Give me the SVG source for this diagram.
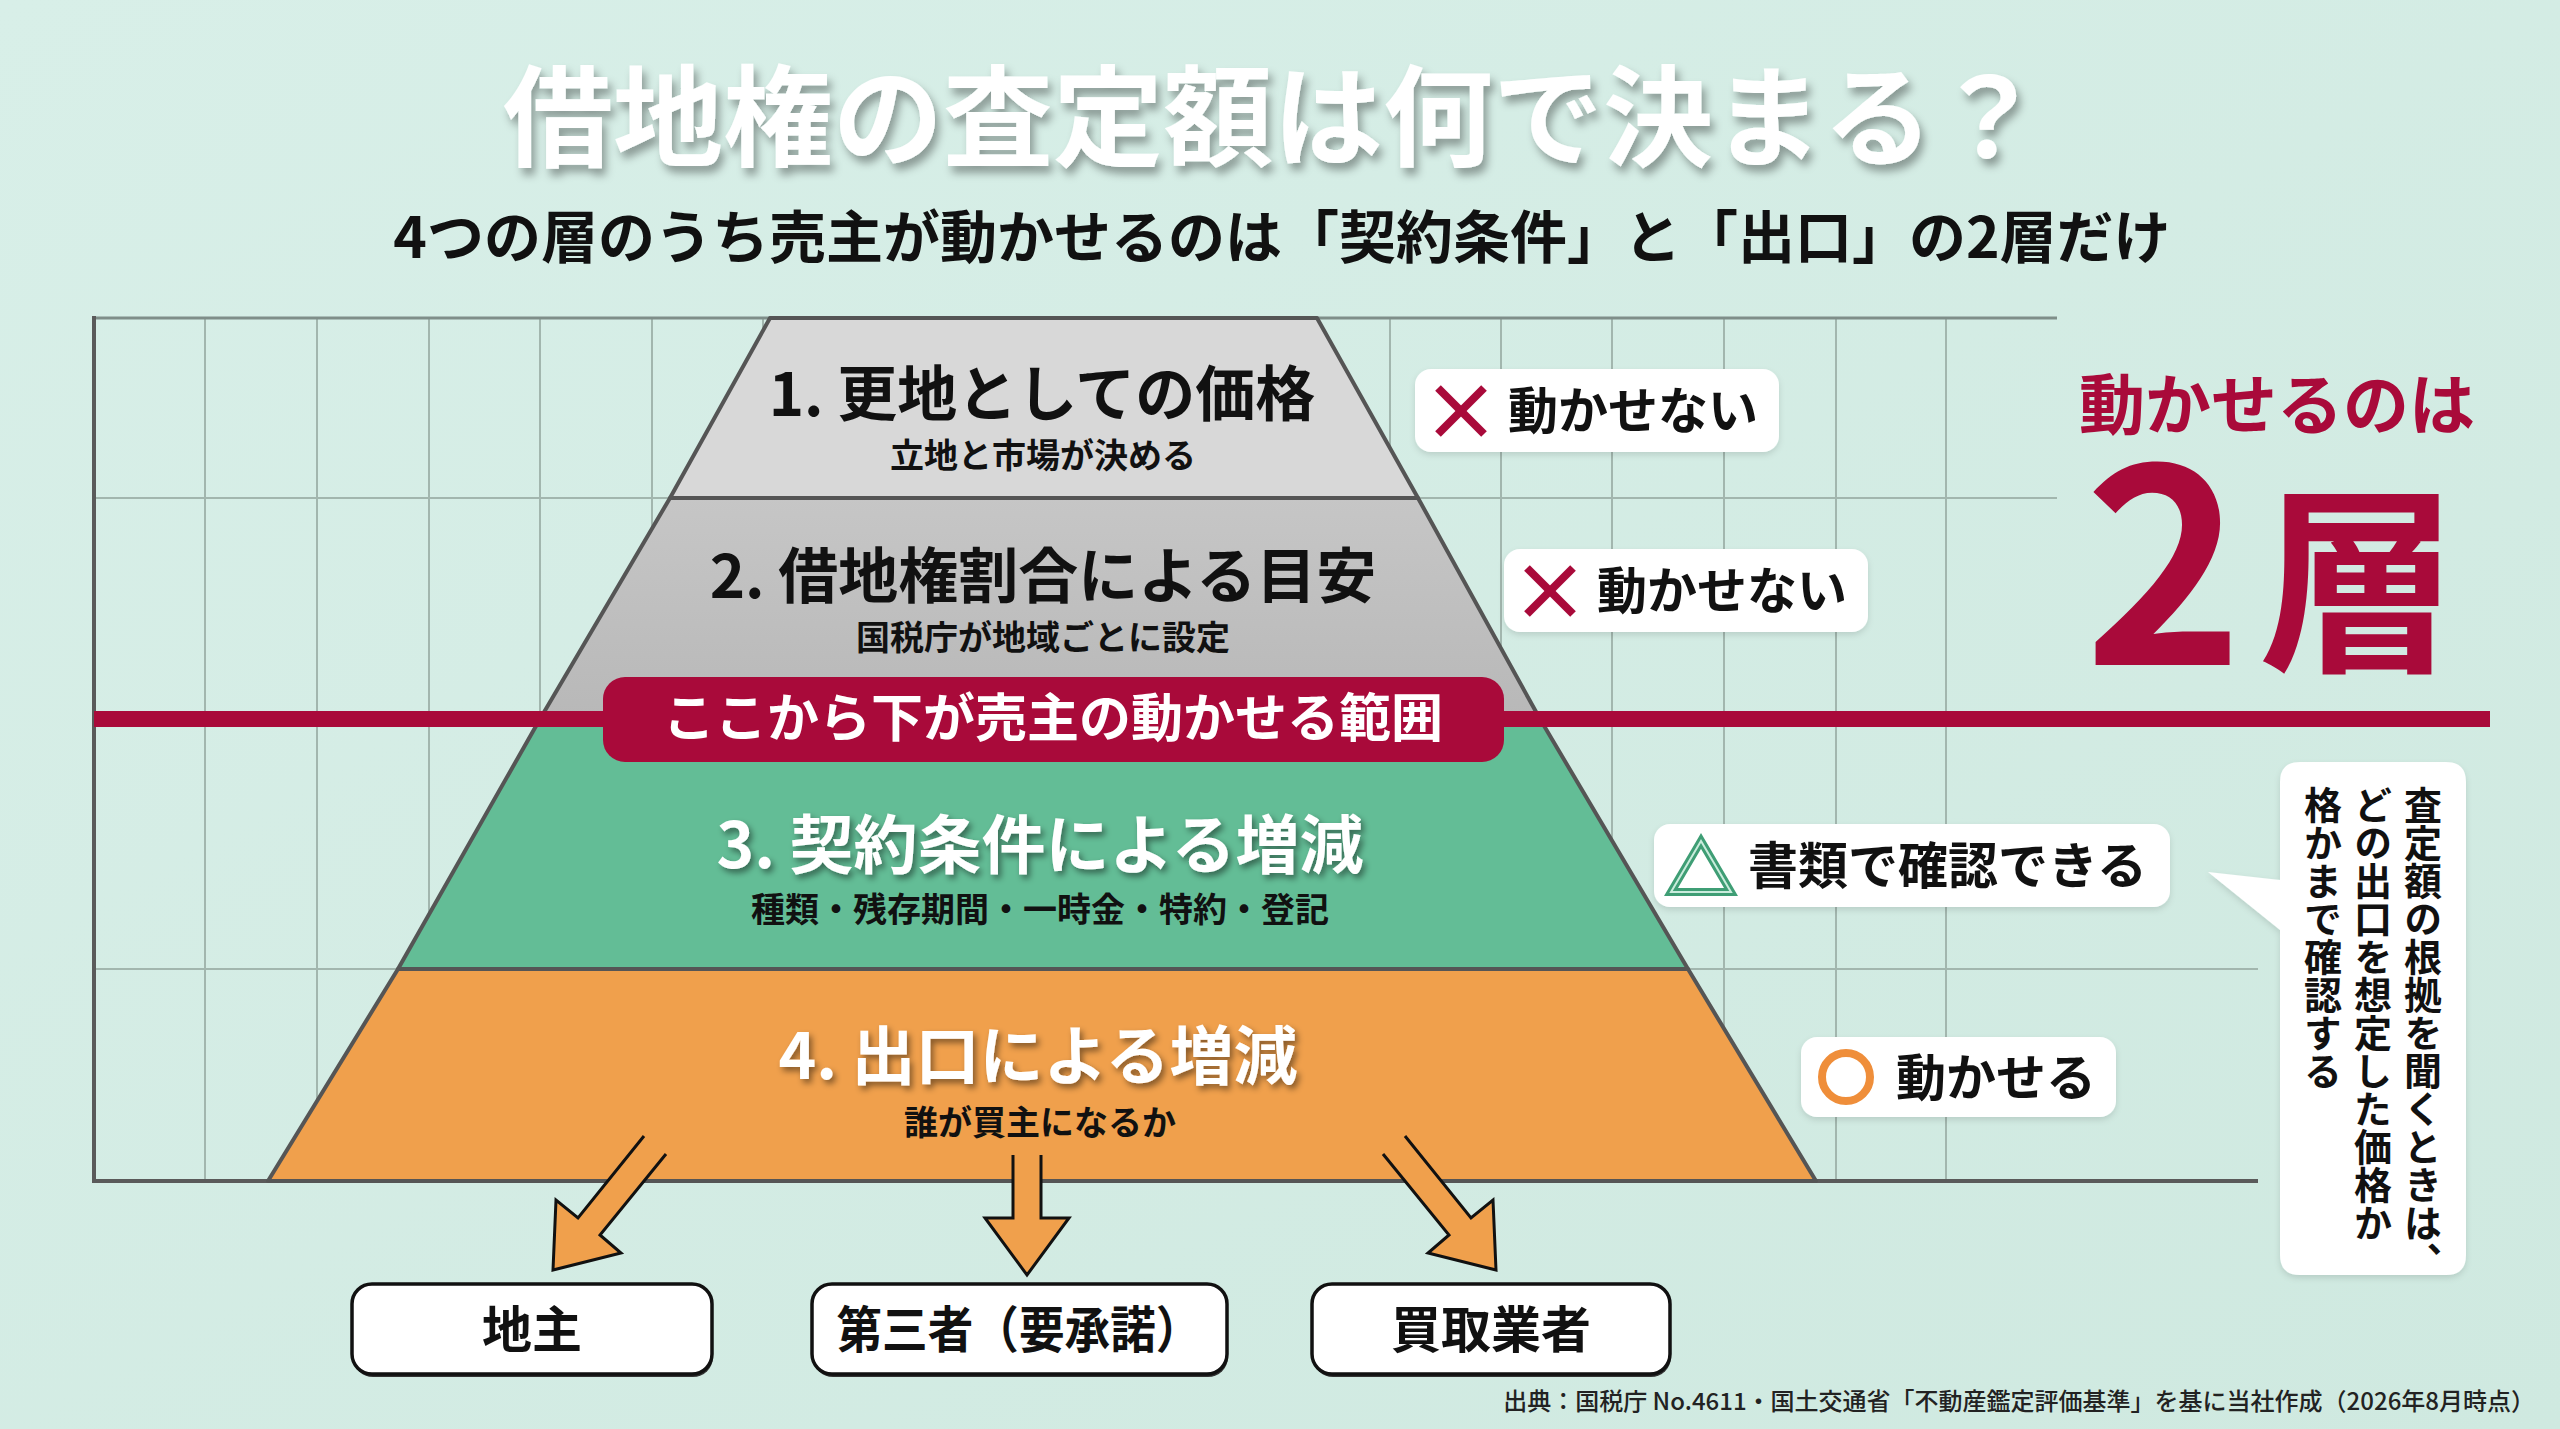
<svg xmlns="http://www.w3.org/2000/svg" width="2560" height="1429" viewBox="0 0 2560 1429">
  <defs>
    <linearGradient id="bg" x1="0" y1="0" x2="1" y2="1">
      <stop offset="0" stop-color="#d8efe8"/>
      <stop offset="1" stop-color="#cfe9e0"/>
    </linearGradient>
    <linearGradient id="g2" x1="0" y1="0" x2="0" y2="1">
      <stop offset="0" stop-color="#c6c6c6"/>
      <stop offset="1" stop-color="#b8b8b8"/>
    </linearGradient>
    <filter id="shTitle" x="-5%" y="-20%" width="110%" height="150%">
      <feDropShadow dx="4" dy="7" stdDeviation="4" flood-color="#000" flood-opacity="0.35"/>
    </filter>
    <filter id="shHead" x="-5%" y="-20%" width="110%" height="150%">
      <feDropShadow dx="3" dy="4" stdDeviation="3" flood-color="#000" flood-opacity="0.45"/>
    </filter>
    <filter id="shBox" x="-10%" y="-20%" width="120%" height="150%">
      <feDropShadow dx="0" dy="3" stdDeviation="3" flood-color="#000" flood-opacity="0.12"/>
    </filter>
  </defs>
  <style>
    text { font-family: "Noto Sans CJK JP", "Noto Sans", sans-serif; font-weight: 700; }
    .grid { stroke: #a2b6ae; stroke-width: 2; fill: none; }
    .frame { stroke: #5a5a5a; stroke-width: 4; fill: none; }
    .layer { stroke: #555; stroke-width: 4; stroke-linejoin: round; }
    .head { font-size: 60px; text-anchor: middle; fill: #111; }
    .headw { font-size: 64px; text-anchor: middle; fill: #fff; filter: url(#shHead); }
    .sub { font-size: 34px; text-anchor: middle; fill: #111; }
    .tag { fill: #fff; filter: url(#shBox); }
    .tagtxt { font-size: 50px; fill: #111; }
    .xmark { stroke: #a90a3a; stroke-width: 8; stroke-linecap: butt; }
    .node { fill: #fff; stroke: #111; stroke-width: 3.5; }
    .nodesh { fill: #333; }
    .nodetxt { font-size: 50px; text-anchor: middle; fill: #111; }
    .arrowfill { fill: #f0a04c; stroke: none; }
    .arrowline { fill: none; stroke: #111; stroke-width: 3; stroke-linejoin: miter; }
    .vt { font-size: 38px; fill: #111; writing-mode: vertical-rl; }
  </style>

  <rect x="0" y="0" width="2560" height="1429" fill="url(#bg)"/>

  <!-- title -->
  <g id="title">
    <text x="1273" y="158" font-size="110" text-anchor="middle" fill="#ffffff" filter="url(#shTitle)">借地権の査定額は何で決まる？</text>
    <text x="1282" y="258" font-size="57" text-anchor="middle" fill="#111">4つの層のうち売主が動かせるのは「契約条件」と「出口」の2層だけ</text>
  </g>

  <!-- grid -->
  <g id="grid">
    <line class="grid" x1="205" y1="318" x2="205" y2="1181"/>
    <line class="grid" x1="317" y1="318" x2="317" y2="1181"/>
    <line class="grid" x1="429" y1="318" x2="429" y2="1181"/>
    <line class="grid" x1="540" y1="318" x2="540" y2="1181"/>
    <line class="grid" x1="652" y1="318" x2="652" y2="1181"/>
    <line class="grid" x1="763" y1="318" x2="763" y2="1181"/>
    <line class="grid" x1="1279" y1="318" x2="1279" y2="1181"/>
    <line class="grid" x1="1390" y1="318" x2="1390" y2="1181"/>
    <line class="grid" x1="1501" y1="318" x2="1501" y2="1181"/>
    <line class="grid" x1="1612" y1="318" x2="1612" y2="1181"/>
    <line class="grid" x1="1724" y1="318" x2="1724" y2="1181"/>
    <line class="grid" x1="1836" y1="318" x2="1836" y2="1181"/>
    <line class="grid" x1="1946" y1="318" x2="1946" y2="1181"/>
    <line class="grid" x1="94" y1="498" x2="2057" y2="498"/>
    <line class="grid" x1="94" y1="969" x2="2258" y2="969"/>
    <line x1="94" y1="318" x2="2057" y2="318" stroke="#7f8e89" stroke-width="3"/>
    <line class="frame" x1="94" y1="316" x2="94" y2="1183"/>
    <line class="frame" x1="92" y1="1181" x2="2258" y2="1181"/>
  </g>

  <!-- red boundary line -->
  <g id="boundary-line">
    <rect x="94" y="711" width="2396" height="16" fill="#a90a3a"/>
  </g>

  <!-- pyramid -->
  <g id="layer4">
    <polygon class="layer" points="398,969 1688,969 1816,1181 268,1181" fill="#f0a04c"/>
    <text class="headw" x="1038" y="1079">4. 出口による増減</text>
    <text class="sub" x="1040" y="1135">誰が買主になるか</text>
  </g>
  <g id="layer3">
    <polygon class="layer" points="540,719 1540,719 1688,969 398,969" fill="#63bd96"/>
    <text class="headw" x="1040" y="868">3. 契約条件による増減</text>
    <text class="sub" x="1040" y="922">種類・残存期間・一時金・特約・登記</text>
  </g>
  <g id="layer2">
    <polygon class="layer" points="670,498 1418,498 1540,719 540,719" fill="url(#g2)"/>
    <text class="head" x="1043" y="598">2. 借地権割合による目安</text>
    <text class="sub" x="1043" y="650">国税庁が地域ごとに設定</text>
  </g>
  <g id="layer1">
    <polygon class="layer" points="770,318 1317,318 1418,498 670,498" fill="#d8d8d8"/>
    <text class="head" x="1042" y="416">1. 更地としての価格</text>
    <text class="sub" x="1043" y="468">立地と市場が決める</text>
  </g>

  <!-- red line over pyramid (left/right parts visible) -->
  <g id="boundary-line-top">
    <rect x="94" y="711" width="512" height="16" fill="#a90a3a"/>
    <rect x="1500" y="711" width="990" height="16" fill="#a90a3a"/>
  </g>

  <g id="range-label">
    <rect x="603" y="677" width="901" height="85" rx="22" fill="#a90a3a"/>
    <text x="1053" y="737" font-size="52" text-anchor="middle" fill="#fff">ここから下が売主の動かせる範囲</text>
  </g>

  <!-- status tags -->
  <g id="tag1">
    <rect class="tag" x="1415" y="369" width="364" height="83" rx="16"/>
    <line class="xmark" x1="1438" y1="388" x2="1484" y2="434"/>
    <line class="xmark" x1="1484" y1="388" x2="1438" y2="434"/>
    <text class="tagtxt" x="1508" y="429">動かせない</text>
  </g>
  <g id="tag2">
    <rect class="tag" x="1504" y="549" width="364" height="83" rx="16"/>
    <line class="xmark" x1="1527" y1="568" x2="1573" y2="614"/>
    <line class="xmark" x1="1573" y1="568" x2="1527" y2="614"/>
    <text class="tagtxt" x="1597" y="609">動かせない</text>
  </g>
  <g id="tag3">
    <rect class="tag" x="1654" y="824" width="516" height="83" rx="16"/>
    <polygon points="1701,841 1671,892 1731,892" fill="none" stroke="#3f9e75" stroke-width="8" stroke-linejoin="miter"/>
    <polygon points="1701,841 1671,892 1731,892" fill="none" stroke="#c9ecdc" stroke-width="2" stroke-linejoin="miter"/>
    <text class="tagtxt" x="1748" y="884">書類で確認できる</text>
  </g>
  <g id="tag4">
    <rect class="tag" x="1801" y="1037" width="315" height="80" rx="16"/>
    <circle cx="1846" cy="1077" r="24" fill="none" stroke="#ef8e3a" stroke-width="8"/>
    <text class="tagtxt" x="1896" y="1096">動かせる</text>
  </g>

  <!-- big message -->
  <g id="message">
    <text fill="#a90a3a"><tspan x="2277" y="429" font-size="66" text-anchor="middle">動かせるのは</tspan><tspan x="2084" y="665" font-size="270" text-anchor="start">2</tspan><tspan x="2258" y="656" font-size="200" text-anchor="start">層</tspan></text>
  </g>

  <!-- callout -->
  <g id="callout">
    <path d="M2300,762 H2446 Q2466,762 2466,782 V1255 Q2466,1275 2446,1275 H2300 Q2280,1275 2280,1255 V930 L2208,872 L2280,880 V782 Q2280,762 2300,762 Z" fill="#fff" filter="url(#shBox)"/>
    <text class="vt" x="2423" y="786">査定額の根拠を聞くときは、</text>
    <text class="vt" x="2373" y="786">どの出口を想定した価格か</text>
    <text class="vt" x="2323" y="786">格かまで確認する</text>
  </g>

  <!-- connectors -->
  <g id="connectors">
    <polygon class="arrowfill" points="644,1136 578,1218 556,1200 553,1270 621,1253 600,1235 666,1154"/>
    <polyline class="arrowline" points="644,1136 578,1218 556,1200 553,1270 621,1253 600,1235 666,1154"/>
    <polygon class="arrowfill" points="1013,1155 1013,1218 985,1218 1027,1275 1069,1218 1041,1218 1041,1155"/>
    <polyline class="arrowline" points="1013,1155 1013,1218 985,1218 1027,1275 1069,1218 1041,1218 1041,1155"/>
    <polygon class="arrowfill" points="1405,1136 1471,1218 1493,1200 1496,1270 1428,1253 1449,1235 1383,1154"/>
    <polyline class="arrowline" points="1405,1136 1471,1218 1493,1200 1496,1270 1428,1253 1449,1235 1383,1154"/>
  </g>

  <!-- buyer nodes -->
  <g id="node-jinushi">
    <rect class="nodesh" x="353" y="1287" width="360" height="90" rx="20"/>
    <rect class="node" x="352" y="1284" width="360" height="90" rx="20"/>
    <text class="nodetxt" x="532" y="1348">地主</text>
  </g>
  <g id="node-daisansha">
    <rect class="nodesh" x="813" y="1287" width="415" height="90" rx="20"/>
    <rect class="node" x="812" y="1284" width="415" height="90" rx="20"/>
    <text class="nodetxt" x="1019" y="1348" textLength="365" lengthAdjust="spacingAndGlyphs">第三者（要承諾）</text>
  </g>
  <g id="node-kaitori">
    <rect class="nodesh" x="1313" y="1287" width="358" height="90" rx="20"/>
    <rect class="node" x="1312" y="1284" width="358" height="90" rx="20"/>
    <text class="nodetxt" x="1491" y="1348">買取業者</text>
  </g>

  <!-- footer -->
  <text x="2535" y="1410" font-size="24" text-anchor="end" fill="#222" style="font-weight:500">出典：国税庁 No.4611・国土交通省「不動産鑑定評価基準」を基に当社作成（2026年8月時点）</text>
</svg>
